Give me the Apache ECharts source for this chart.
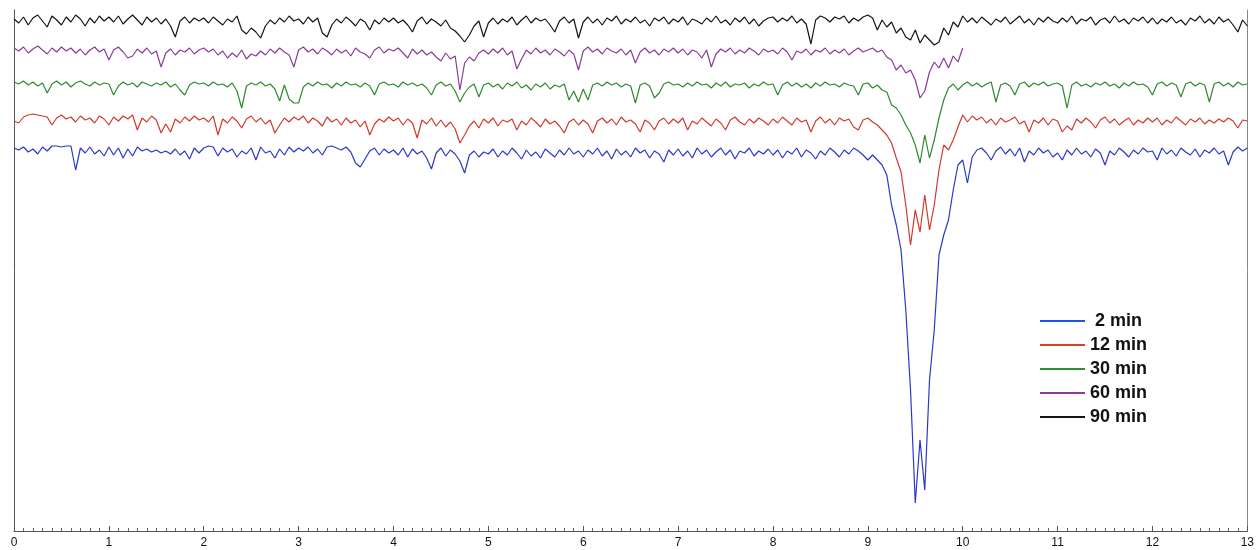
<!DOCTYPE html>
<html>
<head>
<meta charset="utf-8">
<script src="https://cdn.jsdelivr.net/npm/echarts@6/dist/echarts.min.js"></script>
<style>
html,body{margin:0;padding:0;background:#fff;}
#chart{width:1257px;height:550px;}
</style>
</head>
<body>
<div id="chart"></div>
<script>
// x grid of every spectrum: start and step (units of the x axis)
const X_START = 0;
const X_STEP = 0.05;
const X_TICKS = [0,1,2,3,4,5,6,7,8,9,10,11,12,13];
const SERIES_NAMES = [' 2 min', '12 min', '30 min', '60 min', '90 min'];

// values, one row = one x unit (20 points), last = 13.0
const blue2 = [
383,381,384,379,382,377,384,380,385,385,384,385,385,361,383,378,384,377,381,375,
384,376,383,373,382,375,384,380,382,379,381,378,380,377,382,376,380,372,383,378,
383,385,384,375,383,379,382,374,380,377,383,371,384,378,380,373,382,376,384,379,
383,380,384,378,382,376,384,385,383,381,384,379,368,364,372,380,383,376,382,378,
381,376,383,374,382,377,380,373,362,378,383,375,381,377,370,358,376,380,374,379,
377,382,374,380,376,383,378,372,381,375,379,373,382,378,374,381,376,383,377,380,
374,381,377,383,375,380,372,382,376,380,374,383,378,381,373,380,377,369,381,376,
382,375,380,373,383,377,381,374,379,383,376,381,372,380,378,383,375,380,377,382,
376,381,373,380,377,383,374,381,378,372,380,376,383,379,374,381,377,383,380,376,
371,376,371,366,356,326,306,281,221,141,28,91,41,151,201,276,296,311,341,366,
371,348,374,381,383,378,371,380,384,377,382,375,383,369,380,376,383,378,381,374,
378,371,381,376,383,377,380,374,382,378,366,380,376,383,379,374,381,377,383,379,
380,371,383,377,381,375,383,379,376,382,374,381,378,383,377,380,366,379,384,380,
383];
const red12 = [
410,408,414,416,417,416,415,414,406,413,416,412,414,409,415,411,413,408,415,412,
406,414,410,415,412,416,401,413,409,415,411,398,407,399,412,408,414,410,415,411,
413,409,415,396,412,408,414,410,403,412,415,409,413,407,411,398,406,413,409,414,
411,415,408,413,410,405,414,409,412,406,413,408,411,404,410,396,407,412,409,414,
410,413,406,412,408,393,411,407,413,405,411,404,409,402,388,396,405,410,403,412,
408,413,405,411,409,412,401,410,406,413,409,404,412,407,410,405,398,409,412,406,
411,407,398,410,413,408,412,406,414,409,411,407,399,411,408,401,410,413,407,412,
408,413,401,410,407,413,409,405,412,408,401,411,414,409,406,412,408,413,410,406,
412,408,414,410,406,413,409,411,399,410,414,408,412,406,413,410,412,404,401,411,
413,409,406,401,396,388,373,359,326,286,321,299,336,301,326,361,386,381,391,404,
416,409,415,411,414,408,412,406,413,409,411,414,407,410,399,411,408,413,406,412,
410,399,405,401,412,408,413,409,403,411,414,408,412,406,410,413,406,411,408,413,
409,413,406,411,408,414,410,406,412,409,413,407,411,408,412,409,413,410,403,411,
410];
const green30 = [
449,447,450,446,449,445,448,438,447,450,446,449,444,448,450,447,445,449,446,448,
447,436,445,449,446,448,444,449,447,445,448,446,449,444,447,441,436,446,449,447,
448,445,449,446,447,444,448,440,423,445,448,446,449,445,447,442,430,446,432,428,
428,444,448,445,449,446,447,443,448,445,449,446,447,444,448,445,436,447,449,446,
447,444,449,446,448,445,447,443,436,446,449,445,447,440,429,438,444,447,434,446,
448,444,447,442,448,445,449,443,446,441,447,444,448,442,446,444,447,431,440,429,
442,431,446,448,445,449,446,448,444,447,445,428,446,448,445,433,438,447,449,446,
447,444,448,445,449,446,447,443,448,445,449,444,447,446,448,443,447,445,449,446,
447,436,446,449,445,448,444,447,443,448,445,449,446,447,444,448,446,445,436,447,
448,443,446,441,439,426,423,416,406,398,386,368,396,373,391,413,431,443,447,441,
446,449,445,448,444,447,449,429,446,448,445,436,447,449,444,448,446,449,445,447,
448,445,423,446,449,445,447,444,448,446,449,445,447,443,448,445,449,446,447,444,
436,447,449,445,448,446,434,447,449,445,448,446,429,447,449,445,448,444,449,446,
447];
const purple60 = [
483,480,484,478,482,485,481,477,483,479,484,480,483,478,482,476,481,484,479,482,
471,481,484,479,473,475,482,478,483,477,480,464,478,482,476,481,479,483,477,481,
483,479,482,476,480,473,478,474,481,472,477,475,480,476,482,478,483,479,476,464,
481,484,479,482,477,483,480,476,482,478,481,475,483,479,477,473,481,484,478,482,
480,483,478,473,482,477,481,476,479,474,470,478,472,475,441,468,474,470,478,481,
477,482,478,483,476,480,462,472,481,477,483,478,481,476,482,479,475,481,477,461,
480,484,479,482,477,483,480,478,482,476,481,468,479,483,478,481,476,482,479,483,
478,482,476,481,479,473,481,464,477,482,479,483,477,481,478,483,480,476,482,479,
481,477,483,479,471,480,478,482,476,481,479,483,477,481,478,482,476,480,483,479,
481,483,479,481,474,471,461,466,458,461,451,433,440,459,469,463,473,463,475,469,
483];
const black90 = [
512,508,514,506,513,516,510,504,515,511,506,514,509,516,512,505,513,508,515,510,
514,509,515,507,512,516,511,506,514,509,513,507,512,505,494,510,514,508,513,510,
513,508,514,510,506,512,509,515,501,497,503,499,493,505,511,507,513,509,515,510,
512,507,514,509,513,498,494,506,512,508,514,510,505,512,509,501,511,507,513,509,
513,508,511,506,499,510,514,507,512,509,505,511,503,500,495,489,496,505,510,494,
508,513,507,512,509,514,506,511,515,508,513,510,512,506,499,510,514,508,512,493,
509,514,508,512,506,513,510,515,507,512,509,514,508,511,505,513,510,514,507,512,
509,514,506,512,510,507,513,509,515,508,511,506,513,509,514,507,512,505,510,513,
514,509,513,510,515,508,512,507,487,511,515,513,509,514,512,515,508,513,510,514,
516,513,501,511,504,509,498,503,494,491,501,488,496,491,486,489,503,496,509,504,
515,509,513,508,514,510,506,512,509,514,507,511,515,508,512,506,513,509,514,510,
508,513,509,515,507,512,510,514,506,511,513,508,515,509,512,507,513,510,514,508,
513,507,512,509,514,508,511,506,513,510,515,508,512,507,514,509,512,506,499,511,
505];

const VALUES = [blue2, red12, green30, purple60, black90];
const COLORS = ['#2a38c8', '#d2392b', '#2f8a2f', '#8a3c98', '#151515'];
const LEGEND_COLORS = ['#1f52e8', '#d9402e', '#2f8f2f', '#8a3c98', '#151515'];

function pairs(vals) {
  return vals.map((v, i) => [Math.round((X_START + i * X_STEP) * 1000) / 1000, v]);
}

const series = VALUES.map((vals, k) => ({
  name: SERIES_NAMES[k],
  type: 'line',
  data: pairs(vals),
  showSymbol: false,
  symbol: 'none',
  lineStyle: { width: 1.2, color: COLORS[k] },
  itemStyle: { color: LEGEND_COLORS[k] },
  z: 5 - k
}));

const chart = echarts.init(document.getElementById('chart'), null, { renderer: 'canvas' });
chart.setOption({
  animation: false,
  backgroundColor: '#ffffff',
  grid: { left: 14, right: 9, top: 10, bottom: 19, containLabel: false },
  legend: {
    data: SERIES_NAMES.map((n, k) => ({ name: n, itemStyle: { color: LEGEND_COLORS[k] } })),
    orient: 'vertical',
    left: 1035,
    top: 307,
    icon: 'rect',
    itemWidth: 45,
    itemHeight: 2,
    itemGap: 6,
    textStyle: {
      fontFamily: 'Liberation Sans, Arial, sans-serif',
      fontSize: 18,
      fontWeight: 'bold',
      color: '#111',
      lineHeight: 18,
      padding: [0, 0, 0, 0]
    },
    selectedMode: false
  },
  xAxis: {
    type: 'value',
    min: 0,
    max: 13,
    interval: 1,
    axisLine: { show: true, lineStyle: { color: '#555', width: 1 } },
    axisTick: { show: true, inside: true, length: 5, lineStyle: { color: '#555' } },
    minorTick: { show: true, splitNumber: 10, length: 3, lineStyle: { color: '#666' } },
    splitLine: { show: false },
    axisLabel: {
      margin: 6,
      fontFamily: 'Liberation Sans, Arial, sans-serif',
      fontSize: 12,
      color: '#111',
      formatter: v => (X_TICKS.includes(v) ? String(v) : '')
    }
  },
  yAxis: [
    {
      type: 'value',
      min: 0,
      max: 521,
      position: 'left',
      axisLine: { show: true, onZero: false, lineStyle: { color: '#555' } },
      axisTick: { show: false },
      axisLabel: { show: false },
      splitLine: { show: false }
    },
    {
      type: 'value',
      min: 0,
      max: 521,
      position: 'right',
      axisLine: { show: true, onZero: false, lineStyle: { color: '#888' } },
      axisTick: { show: false },
      axisLabel: { show: false },
      splitLine: { show: false }
    }
  ],
  series: series
});
</script>
</body>
</html>
